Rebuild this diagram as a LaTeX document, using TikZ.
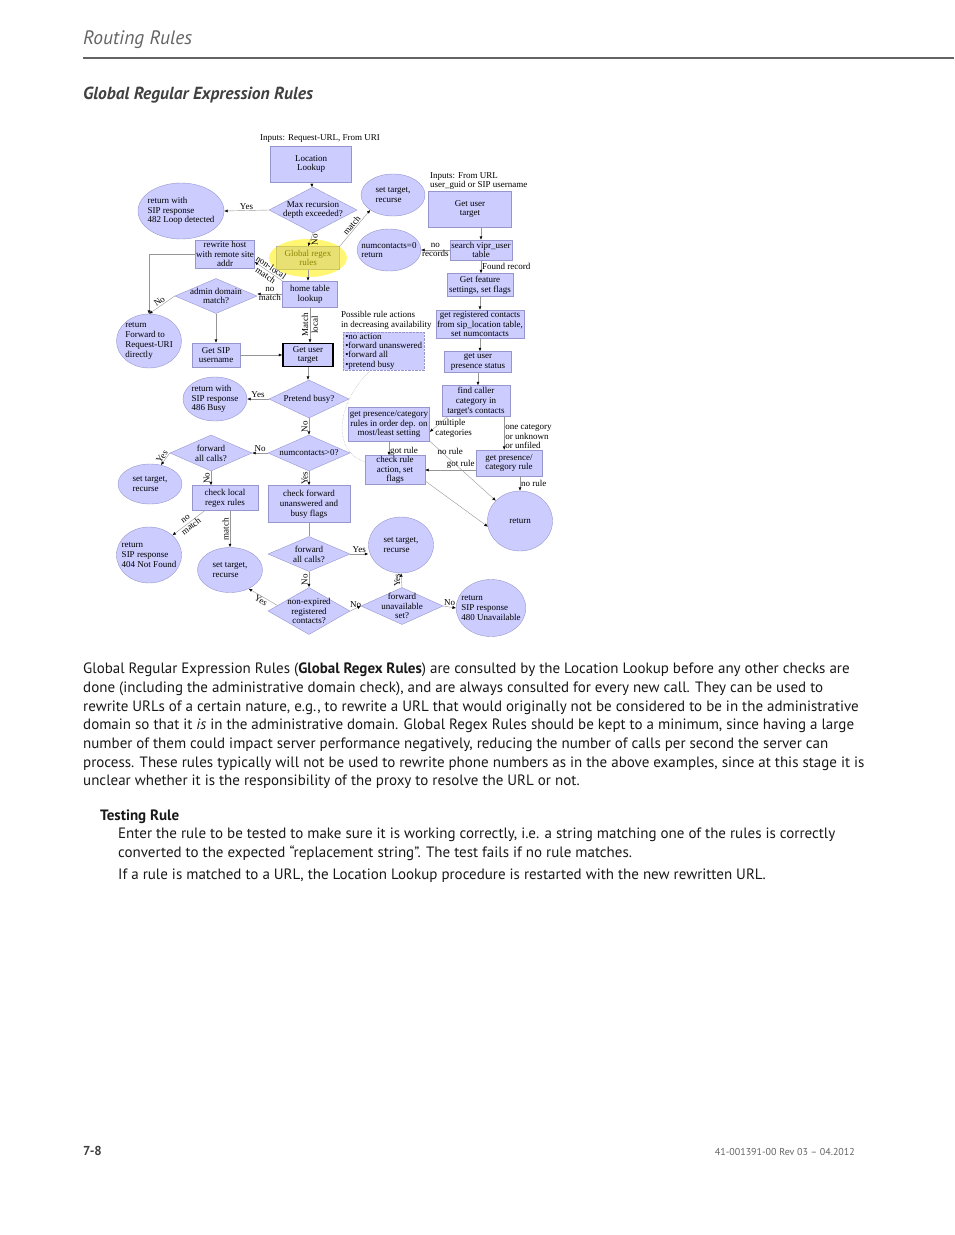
\documentclass[tikz,border=0pt]{standalone}
\usepackage{fontspec}
\setmainfont{PT Sans}
\newfontfamily\diagfont{Liberation Serif}
\usetikzlibrary{arrows.meta}
\usetikzlibrary{shapes.geometric}
\usetikzlibrary{positioning}

\definecolor{boxfill}{RGB}{204,204,255}
\definecolor{boxline}{RGB}{150,150,205}
\definecolor{wire}{RGB}{150,150,150}
\definecolor{headgray}{RGB}{100,100,100}
\definecolor{titlegray}{RGB}{65,65,65}

\begin{document}
\begin{tikzpicture}[x=1pt, y=-1pt,
    every node/.style={font=\diagfont\fontsize{9}{9.8}\selectfont},
    sz/.style 2 args={minimum width=#1, minimum height=#2},
    box/.style={rectangle, draw=boxline, fill=boxfill, align=center, inner sep=0.5pt},
    oval/.style={ellipse, draw=boxline, fill=boxfill, align=left, inner sep=-5pt},
    choice/.style={diamond, draw=boxline, fill=boxfill, align=center, aspect=1.6, inner sep=-5pt},
    lbl/.style={inner sep=1pt},
    arr/.style={draw=wire, -{Latex[length=3.5pt, width=3pt, color=black]}},
    plain/.style={draw=wire},
    body/.style={font=\fontsize{15}{18}\selectfont, text=black!90, anchor=base west, inner sep=0pt}
]
\fill[white] (0,0) rectangle (954,1235);
\useasboundingbox (0,0) rectangle (954,1235);

% --- Page header ---
\node[anchor=base west, inner sep=0pt, text=headgray, font=\itshape\fontsize{19.5}{22}\selectfont] (hdr) at (83,44) {Routing Rules};
\draw[headgray, line width=1.2pt] (83,58) -- (954,58);
\node[anchor=base west, inner sep=0pt, text=titlegray, font=\bfseries\itshape\fontsize{17.5}{20}\selectfont] (sec) at (83,99) {Global Regular Expression Rules};

% --- Left and middle column, top ---
\node (inp1) at (320,139) {Inputs: Request-URL, From URI};
\node[box, sz={81pt}{36pt}] (loc) at (311,164) {Location\\Lookup};
\node[choice, sz={88pt}{46pt}] (maxrec) at (313,210) {Max recursion\\depth exceeded?};
\node[oval, sz={86pt}{56pt}] (loop) at (181,211) {return with\\SIP response\\482 Loop detected};
\node[oval, sz={64pt}{42pt}] (tgt1) at (393,195) {set target,\\recurse};
\node[box, sz={63pt}{23pt}] (glob) at (308,258) {Global regex\\rules};
\fill[yellow, opacity=0.55] (glob.center) ellipse [x radius=39pt, y radius=19pt];
\node[box, sz={59pt}{28pt}] (rewrite) at (225,254) {rewrite host\\with remote site\\addr};
\node[box, sz={55pt}{26pt}] (home) at (310,294) {home table\\lookup};
\node[choice, sz={82pt}{35pt}] (admin) at (216,296) {admin domain\\match?};
\node[oval, sz={65pt}{54pt}] (fwd) at (149,341) {return\\Forward to\\Request-URI\\directly};
\node[box, sz={48pt}{24pt}] (getsip) at (216,355) {Get SIP\\username};
\node[box, sz={50pt}{23pt}, draw=black, line width=1.5pt] (gut) at (308,355) {Get user\\target};
\node[anchor=north west, align=left, inner sep=0pt] (poss) at (341,311) {Possible rule actions\\in decreasing availability};
\node[anchor=north west, draw=boxline, fill=boxfill, densely dotted, align=left, inner sep=1pt, sz={81pt}{37pt},
      font=\diagfont\fontsize{9}{9.4}\selectfont] (acts) at (343,332) {•no action\\•forward unanswered\\•forward all\\•pretend busy};

% --- Right column ---
\node[anchor=north west, align=left, inner sep=0pt] (inp2) at (430,172) {Inputs: From URL\\user\_guid or SIP username};
\node[box, sz={83pt}{36pt}] (gut2) at (470,209) {Get user\\target};
\node[box, sz={62pt}{20pt}] (search) at (481,250) {search vipr\_user\\table};
\node[oval, sz={63pt}{42pt}] (nc0) at (389,250) {numcontacts=0\\return};
\node[box, sz={66pt}{23pt}] (feat) at (480,285) {Get feature\\settings, set flags};
\node[box, sz={88pt}{28pt}] (regc) at (480,324) {get registered contacts\\from sip\_location table,\\set numcontacts};
\node[box, sz={67pt}{21pt}] (pres) at (478,362) {get user\\presence status};
\node[box, sz={68pt}{31pt}] (cat) at (476,401) {find caller\\category in\\target's contacts};
\node[box, sz={81pt}{34pt}] (rules) at (389,424) {get presence/category\\rules in order dep. on\\most/least setting};
\node[box, sz={60pt}{29pt}] (chk) at (395,470) {check rule\\action, set\\flags};
\node[box, sz={66pt}{26pt}] (prc) at (509,463) {get presence/\\category rule};
\node[oval, sz={65pt}{60pt}] (ret) at (520,521) {return};

% --- Left and middle column, bottom ---
\node[choice, sz={80pt}{38pt}] (busy) at (309,399) {Pretend busy?};
\node[oval, sz={64pt}{44pt}] (r486) at (215,399) {return with\\SIP response\\486 Busy};
\node[choice, sz={82pt}{36pt}] (ncg0) at (309,453) {numcontacts>0?};
\node[choice, sz={82pt}{36pt}] (fac1) at (211,453) {forward\\all calls?};
\node[oval, sz={64pt}{40pt}] (tgt2) at (150,484) {set target,\\recurse};
\node[box, sz={66pt}{25pt}] (chl) at (225,498) {check local\\regex rules};
\node[box, sz={82pt}{37pt}] (chf) at (309,504) {check forward\\unanswered and\\busy flags};
\node[oval, sz={65pt}{56pt}] (r404) at (149,555) {return\\SIP response\\404 Not Found};
\node[oval, sz={65pt}{45pt}] (tgt3) at (230,570) {set target,\\recurse};
\node[choice, sz={82pt}{35pt}] (fac2) at (309,554) {forward\\all calls?};
\node[oval, sz={65pt}{56pt}] (tgt4) at (401,545) {set target,\\recurse};
\node[choice, sz={82pt}{47pt}] (nonexp) at (309,611) {non-expired\\registered\\contacts?};
\node[choice, sz={82pt}{37pt}] (funa) at (402,606) {forward\\unavailable\\set?};
\node[oval, sz={65pt}{57pt}] (r480) at (491,608) {return\\SIP response\\480 Unavailable};

% --- Connectors, top part ---
\draw[arr] (loc) -- (maxrec);
\draw[arr] (maxrec.west) -- node[lbl, above] {Yes} (loop.east);
\draw[arr] (maxrec.south) -- node[lbl, rotate=90, below] {No} (glob.north);
\draw[arr] (glob.north east) -- node[lbl, sloped, above] {match} (tgt1.south west);
\draw[arr] (glob.south) -- (glob.south |- home.north);
\draw[arr] (home.north west) -- node[lbl, sloped, align=center] {non-local\\match} (rewrite.-15);
\draw[arr] (rewrite.west) -| (fwd.north);
\draw[arr] (admin.west) -- node[lbl, sloped, above] {No} (fwd.north);
\draw[arr] (home.west) -- node[lbl, align=center] {no\\match} (home.west -| admin.east);
\draw[arr] (admin.south) -- (getsip.north);
\draw[arr] (getsip.east) -- (gut.west);
\draw[arr] (home.south) -- node[lbl, rotate=90, align=center] {Match\\local} (home.south |- gut.north);
\draw[arr] (gut.south) -- (gut.south |- busy.north);
\draw[plain, densely dotted] ([xshift=-13pt]acts.south) .. controls (338,400) and (330,450) .. (chk.165);

% --- Connectors, right column ---
\draw[arr] (search.north |- gut2.south) -- (search.north);
\draw[arr] (search.west) -- node[lbl, align=center] {no\\records} (nc0.east);
\draw[arr] (search.south) -- node[lbl, right] {Found record} (search.south |- feat.north);
\draw[arr] (feat.south) -- (feat.south |- regc.north);
\draw[arr] (regc.south) -- (regc.south |- pres.north);
\draw[arr] (pres.south) -- (pres.south |- cat.north);
\draw[arr] (cat.-151) -- node[lbl, pos=0.75, anchor=west, align=left] {multiple\\categories} (rules.-11);
\draw[arr] ([xshift=-6pt]cat.south east) -- node[lbl, pos=0.6, right, align=left] {one category\\or unknown\\or unfiled} ([xshift=-6pt]cat.south east |- prc.north);
\draw[arr] (rules.south) -- node[lbl, pos=0.7, right] {got rule} (rules.south |- chk.north);
\draw[arr] (prc.west |- chk.east) -- node[lbl, pos=0.3, above] {got rule} (chk.east);
\draw[arr] (rules.south east) -- node[lbl, pos=0.1, anchor=west, yshift=-4pt] {no rule} (ret.140);
\draw[arr] (chk.-20) -- (ret.190);
\draw[arr] (ret.north |- prc.south) -- node[lbl, right] {no rule} (ret.north);

% --- Connectors, bottom part ---
\draw[arr] (busy.west) -- node[lbl, above] {Yes} (r486.east);
\draw[arr] (busy.south) -- node[lbl, rotate=90, above] {No} (ncg0.north);
\draw[arr] (ncg0.west) -- node[lbl, above] {No} (fac1.east);
\draw[arr] (fac1.west) -- node[lbl, sloped, above] {Yes} (tgt2.60);
\draw[arr] (fac1.south) -- node[lbl, rotate=90, above] {No} (fac1.south |- chl.north);
\draw[arr] (ncg0.south) -- node[lbl, rotate=90, above] {Yes} (chf.north);
\draw[arr] (chl.-148) -- node[lbl, sloped, align=center] {no\\match} (r404.40);
\draw[arr] (tgt3.north |- chl.south) -- node[lbl, rotate=90, above] {match} (tgt3.north);
\draw[plain] (chf.south) -- (fac2.north);
\draw[arr] (fac2.east) -- node[lbl, above] {Yes} (fac2.east -| tgt4.west);
\draw[arr] (fac2.south) -- node[lbl, rotate=90, above] {No} (nonexp.north);
\draw[arr] (nonexp.170) -- node[lbl, sloped, below] {Yes} (tgt3.-45);
\draw[arr] (nonexp.east) -- node[lbl, above] {No} (funa.west);
\draw[arr] (funa.north) -- node[lbl, rotate=90, above] {Yes} (tgt4.south);
\draw[arr] (funa.east) -- node[lbl, above] {No} (r480.west);

% --- Body text ---
\foreach \y/\txt [count=\n] in {
    673/{Global Regular Expression Rules (\textbf{Global Regex Rules}) are consulted by the Location Lookup before any other checks are},
    692/{done (including the administrative domain check), and are always consulted for every new call. They can be used to},
    711/{rewrite URLs of a certain nature, e.g., to rewrite a URL that would originally not be considered to be in the administrative},
    729/{domain so that it \textit{is} in the administrative domain. Global Regex Rules should be kept to a minimum, since having a large},
    748/{number of them could impact server performance negatively, reducing the number of calls per second the server can},
    767/{process. These rules typically will not be used to rewrite phone numbers as in the above examples, since at this stage it is},
    785/{unclear whether it is the responsibility of the proxy to resolve the URL or not.}}
    \node[body] (p\n) at (83,\y) {\txt};

\node[body, font=\bfseries\fontsize{15}{18}\selectfont] (tst) at (100,820) {Testing Rule};
\foreach \y/\txt [count=\n] in {
    838/{Enter the rule to be tested to make sure it is working correctly, i.e. a string matching one of the rules is correctly},
    857/{converted to the expected “replacement string”. The test fails if no rule matches.},
    879/{If a rule is matched to a URL, the Location Lookup procedure is restarted with the new rewritten URL.}}
    \node[body] (t\n) at (118,\y) {\txt};

% --- Page footer ---
\node[anchor=base west, inner sep=0pt, text=titlegray, font=\bfseries\fontsize{13}{15}\selectfont] (pg) at (83,1155) {7-8};
\node[anchor=base east, inner sep=0pt, text=headgray, font=\fontsize{10}{12}\selectfont] (docid) at (855,1155) {41-001391-00 Rev 03 – 04.2012};

\end{tikzpicture}
\end{document}
